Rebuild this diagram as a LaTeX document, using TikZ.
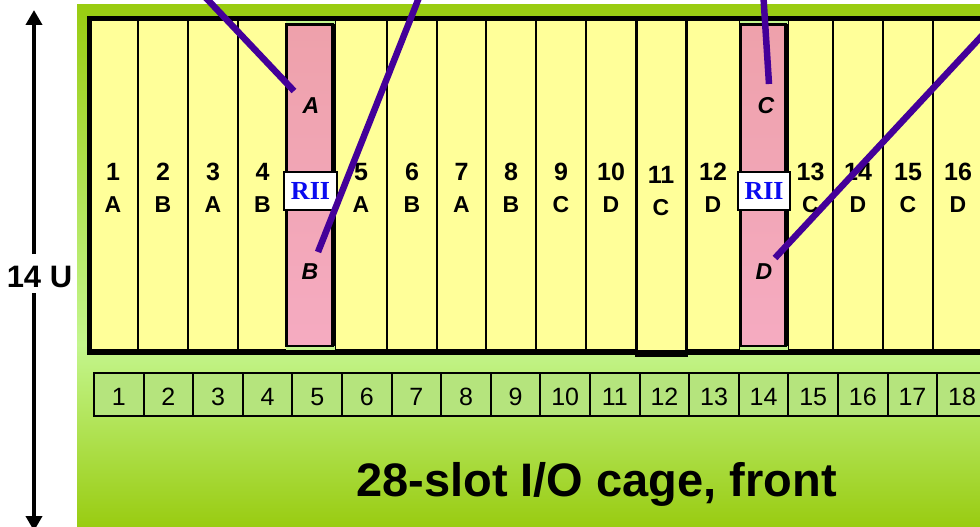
\documentclass[tikz,border=0pt]{standalone}
\usepackage{fontspec}
\setmainfont{Liberation Sans}
\newfontfamily\rfont{Liberation Serif}
\usetikzlibrary{arrows.meta}
\definecolor{dkg}{HTML}{99CC11}
\definecolor{ltg}{HTML}{C4F68E}
\definecolor{boxg}{HTML}{B5E47D}
\definecolor{slotY}{HTML}{FFFF99}
\definecolor{pinkT}{HTML}{EEA1AB}
\definecolor{pinkB}{HTML}{F5ABC1}
\definecolor{purp}{HTML}{440099}
\definecolor{rblue}{HTML}{0A0AF0}
\tikzset{
  slotbox/.style={draw=black, line width=1.8pt, fill=slotY},
  numlbl/.style={font=\bfseries\fontsize{25}{25}\selectfont, inner sep=0pt, anchor=base},
  letlbl/.style={font=\bfseries\fontsize{23}{23}\selectfont, inner sep=0pt, anchor=base},
  itlbl/.style={font=\bfseries\itshape\fontsize{23}{23}\selectfont, inner sep=0pt, anchor=base},
  riibox/.style={draw=black, line width=2.5pt, fill=white, minimum height=38pt, inner sep=0pt,
    font=\rfont\bfseries\fontsize{26}{26}\selectfont, text=rblue},
  cable/.style={draw=purp, line width=6.5pt},
  ubox/.style={draw=black, line width=2pt, fill=boxg},
  unum/.style={font=\fontsize{25}{25}\selectfont, inner sep=0pt, anchor=base},
  arr/.style={line width=4pt, -{Triangle[width=16pt,length=15pt]}},
}
\begin{document}
\begin{tikzpicture}[x=1pt,y=-1pt]
\path[use as bounding box] (0,0) rectangle (980,527);
\clip (0,0) rectangle (980,527);
% background
\fill[top color=dkg, bottom color=ltg] (77,5) rectangle (990,345);
\fill[top color=ltg, bottom color=dkg] (77,344.5) rectangle (990,527);
% yellow slots
\foreach \a/\b/\n/\l in {88/138/1/A, 138/188/2/B, 188/238/3/A, 238/287/4/B,
  335/387/5/A, 387/437/6/B, 437/486/7/A, 486/536/8/B, 536/586/9/C, 586/636/10/D,
  686/740/12/D, 788/833/13/C, 833/883/14/D, 883/933/15/C, 933/983/16/D}{
  \draw[slotbox] (\a,20) rectangle (\b,350);
  \node[numlbl] (n\n) at ({(\a+\b)/2},180) {\n};
  \node[letlbl] (l\n) at ({(\a+\b)/2},212) {\l};
}
% slot 11 (taller card)
\draw[slotbox, line width=3pt] (636,19) rectangle (686,355);
\node[numlbl] (n11) at (661,183) {11};
\node[letlbl] (l11) at (661,215) {C};
% RII slots
\foreach \a/\b in {286/335, 740/788}{
  \fill[ltg] (\a,21) rectangle (\b,350);
  \draw[line width=2.5pt, top color=pinkT, bottom color=pinkB] (\a+0.5,24.5) rectangle (\b-2,346);
  \draw[line width=4pt] (\b-2,24.5) -- (\b-2,346);
}
% frame
\draw[line width=5pt] (89,19) rectangle (1010,352);
% RII boxes
\node[riibox, minimum width=53pt] (r1) at (310.5,191) {RII};
\node[riibox, minimum width=52pt] (r2) at (764,191) {RII};
% italic letters
\node[itlbl] (pA) at (311,113) {A};
\node[itlbl] (pB) at (310,279) {B};
\node[itlbl] (pC) at (766,113) {C};
\node[itlbl] (pD) at (764,279) {D};
% cables
\coordinate (c1s) at (198.5,-10); \coordinate (c1e) at (294,91);
\coordinate (c2s) at (422,-10);   \coordinate (c2e) at (318,252);
\coordinate (c3s) at (763,-10);   \coordinate (c3e) at (769,84);
\coordinate (c4s) at (991,26);    \coordinate (c4e) at (775,258);
\draw[cable] (c1s) -- (c1e);
\draw[cable] (c2s) -- (c2e);
\draw[cable] (c3s) -- (c3e);
\draw[cable] (c4s) -- (c4e);
% bottom numbered strip
\foreach \i in {1,...,18}{
  \draw[ubox] ({94+49.6*(\i-1)},373) rectangle ({94+49.6*\i},416);
  \node[unum] (u\i) at ({94+49.6*(\i-0.5)},405) {\i};
}
% title
\node[font=\bfseries\fontsize{47}{47}\selectfont, inner sep=0pt, anchor=base] (title) at (596.5,496) {28-slot I/O cage, front};
% height arrow
\node[font=\bfseries\fontsize{31}{31}\selectfont, inner sep=0pt, anchor=base] (hu) at (39.5,287) {14 U};
\coordinate (hua) at (34,254); \coordinate (hut) at (34,10);
\coordinate (hub) at (34,293); \coordinate (hubt) at (34,531);
\draw[arr] (hua) -- (hut);
\draw[arr] (hub) -- (hubt);
\end{tikzpicture}
\end{document}
